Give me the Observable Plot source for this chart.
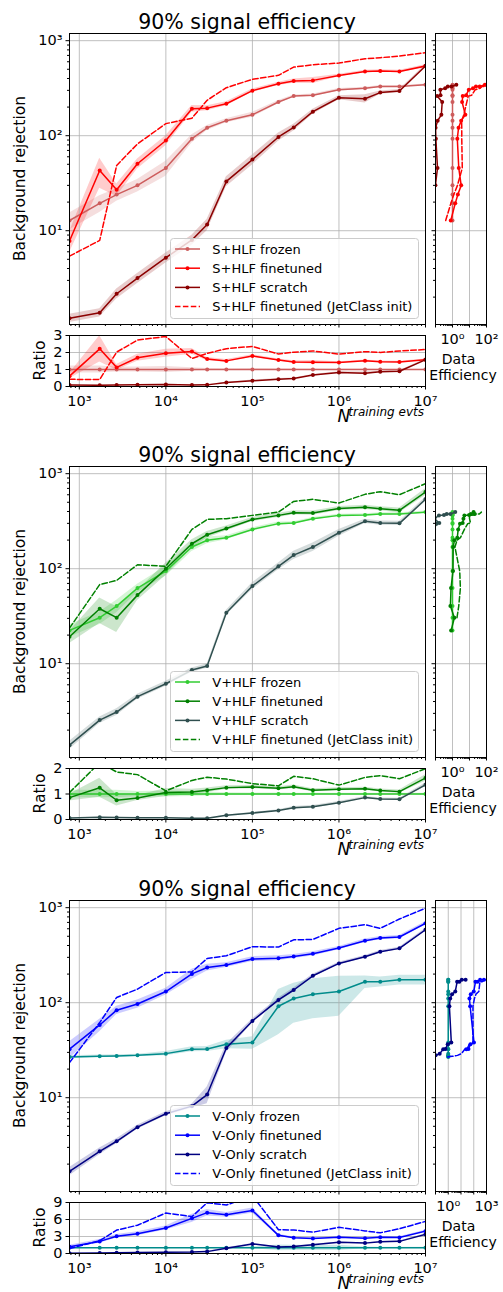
<!DOCTYPE html>
<html>
<head>
<meta charset="utf-8">
<script src="https://cdn.jsdelivr.net/npm/d3@7"></script>
<script src="https://cdn.jsdelivr.net/npm/@observablehq/plot@0.6"></script>
<style>
  body { margin: 0; background: #fff; }
  #fig { position: relative; width: 503px; height: 1292px; overflow: hidden; font-family: "DejaVu Sans", sans-serif; }
  #fig > svg { position: absolute; }
</style>
</head>
<body>
<div id="fig"></div>
<script>
// Training-set sizes shared by all curves
const nTrain = [770, 1720, 2700, 4700, 1e4, 2e4, 3e4, 5e4, 1e5, 2e5, 3e5, 5e5, 1e6, 2e6, 3e6, 5e6, 1e7];

// S+HLF: background rejection at 90% signal efficiency
const shlfFrozen    = [12.8, 19.4, 24, 30, 45.6, 93, 121, 144, 166, 226, 261, 267, 305, 315, 330, 330, 344];
const shlfFinetuned = [7.8, 43, 27, 50.7, 89, 192, 195, 217, 298, 352, 376, 382, 431, 475, 479, 475, 541];
const shlfScratch   = [1.2, 1.37, 2.17, 3.17, 5.2, 8.0, 11.6, 33, 56, 97, 122, 179, 251, 245, 284, 295, 541];
const shlfJetClass  = [5.4, 7.9, 48.6, 82, 134, 153, 236, 320, 392, 432, 527, 558, 581, 646, 662, 689, 748];

// V+HLF
const vhlfFrozen    = [22.4, 30.5, 40.4, 62.5, 94.4, 169, 199, 212, 259, 298, 302, 336, 364, 367, 376, 376, 394];
const vhlfFinetuned = [19.2, 37.9, 30.5, 52.7, 100, 183, 228, 265, 330, 364, 388, 385, 431, 442, 428, 411, 641];
const vhlfScratch   = [1.39, 2.55, 3.1, 4.5, 6.15, 8.57, 9.44, 34.4, 65.7, 106, 139, 169, 239, 315, 302, 300, 537];
const vhlfJetClass  = [23.7, 68, 75.3, 110, 106, 259, 330, 336, 364, 394, 511, 537, 491, 606, 647, 601, 785];

// V-Only
const vonlyFrozen    = [26.8, 27.3, 27.5, 27.9, 29.1, 32.4, 32.6, 36.5, 38, 91.8, 110.6, 123, 131, 166, 166, 174, 174];
const vonlyFinetuned = [32.4, 58.3, 83.4, 97, 131, 201, 235, 249, 288, 294, 307, 327, 376, 449, 479, 491, 684];
const vonlyScratch   = [1.68, 2.73, 3.48, 4.9, 6.78, 8.15, 10.8, 33.3, 64.3, 107, 136, 192, 259, 304, 344, 373, 586];
const vonlyJetClass  = [23.4, 61.8, 113.6, 139, 208, 211, 292, 312, 388, 385, 459, 463, 606, 662, 606, 760, 986];

// Relative spread across trainings (shaded bands)
const shlfFrozenErr    = [0.2, 0.2, 0.15, 0.15, 0.18, 0.1, 0.06, 0.05, 0.06, 0.04, 0.03, 0.03, 0.03, 0.03, 0.02, 0.02, 0.02];
const shlfFinetunedErr = [0.25, 0.35, 0.15, 0.12, 0.12, 0.08, 0.06, 0.05, 0.04, 0.04, 0.05, 0.07, 0.03, 0.03, 0.03, 0.03, 0.03];
const shlfScratchErr   = [0.1, 0.1, 0.12, 0.12, 0.12, 0.12, 0.14, 0.12, 0.12, 0.1, 0.08, 0.06, 0.05, 0.1, 0.04, 0.04, 0.03];
const vhlfFrozenErr    = [0.15, 0.15, 0.15, 0.1, 0.12, 0.1, 0.08, 0.05, 0.04, 0.04, 0.03, 0.03, 0.03, 0.03, 0.03, 0.03, 0.03];
const vhlfFinetunedErr = [0.15, 0.3, 0.3, 0.12, 0.15, 0.1, 0.08, 0.06, 0.05, 0.05, 0.05, 0.05, 0.05, 0.05, 0.05, 0.06, 0.08];
const vhlfScratchErr   = [0.1, 0.08, 0.08, 0.06, 0.06, 0.05, 0.05, 0.06, 0.08, 0.08, 0.1, 0.1, 0.08, 0.05, 0.05, 0.05, 0.05];
const vonlyFrozenErr    = [0.03, 0.03, 0.03, 0.03, 0.05, 0.06, 0.06, 0.1, 0.15, 0.5, 0.45, 0.45, 0.45, 0.15, 0.12, 0.12, 0.12];
const vonlyFinetunedErr = [0.2, 0.15, 0.1, 0.1, 0.08, 0.12, 0.08, 0.06, 0.06, 0.06, 0.05, 0.05, 0.04, 0.04, 0.04, 0.04, 0.04];
const vonlyScratchErr   = [0.1, 0.08, 0.06, 0.05, 0.05, 0.05, 0.2, 0.1, 0.05, 0.05, 0.05, 0.04, 0.03, 0.03, 0.03, 0.03, 0.03];

// Data efficiency (events the frozen model needs / events the model needs)
// at each rejection level reached by the frozen model; null = level not reached
const frozenEff       = [1, 1, 1, 1, 1, 1, 1, 1, 1, 1, 1, 1, 1, 1, 1, 1, 1];
const shlfFinetunedEff = [0.792, 1.45, 2.07, 3.24, 2.34, 1.92, 2.27, 3.24, 5.7, 3.66, 4.01, 6.36, 9.08, 16, 24, 40, 80];
const shlfScratchEff   = [0.0245, 0.0446, 0.0631, 0.0985, 0.131, 0.105, 0.101, 0.134, 0.221, 0.248, 0.126, 0.197, 0.193, 0.371, 0.528, 0.88, 1.68];
const shlfJetClassEff  = [0.397, 0.8, 1.19, 1.96, 3.76, 3.51, 3.51, 3.43, 4.63, 6.94, 8.45, 13.5, 21.7, 41.1, 54, 90, 156];
const vhlfFinetunedEff = [0.833, 1.29, 0.752, 0.818, 1.07, 1.1, 1.29, 1.91, 2.16, 2.76, 3.97, 4.4, 5, 9.49, 12.2, 20.3, 17.4];
const vhlfScratchEff   = [0.0182, 0.0361, 0.0455, 0.0496, 0.0591, 0.04, 0.0433, 0.0635, 0.0817, 0.115, 0.167, 0.0874, 0.159, 0.315, 0.459, 0.764, 1.45];
const vhlfJetClassEff  = [null, 1.84, 2.33, 2.91, 2.66, 1.39, 1.84, 2.92, 5, 7.91, 11.6, 10, 10, 18.6, 22.6, 37.6, 50];
const vonlyFinetunedEff = [null, null, null, null, null, 26, 38.6, 55.2, 104, 52.1, 45.9, 58.6, 100, 136, 204, 316, 632];
const vonlyScratchEff   = [0.017, 0.0376, 0.0589, 0.102, 0.213, 0.405, 0.606, 0.908, 1.74, 1.23, 1.42, 1.98, 3.55, 4.96, 7.44, 11.6, 23.1];
const vonlyJetClassEff  = [0.894, 1.97, 3.07, 5.28, 10.8, 19.8, 29.6, 44.9, 86.9, 86.7, 113, 149, 250, 305, 458, 699, 1400];

const FONT = '"DejaVu Sans", sans-serif';
const GRID = {stroke: "#b0b0b0", strokeOpacity: 1, strokeWidth: 0.8};
const DASH = "5.5,2.4";
const SUP = {"0": "⁰", "1": "¹", "2": "²", "3": "³", "4": "⁴", "5": "⁵", "6": "⁶", "7": "⁷", "8": "⁸", "9": "⁹", "-": "⁻"};
const pow10 = v => "10" + String(Math.round(Math.log10(v))).split("").map(c => SUP[c]).join("");
const blank = () => "";
function logMinor(e0, e1) { const t = []; for (let e = e0; e < e1; e++) for (let m = 2; m <= 9; m++) t.push(m * 10 ** e); return t; }

const xDomain = [770, 1e7];
const xMajor = [1e3, 1e4, 1e5, 1e6, 1e7];
const xMinor = logMinor(2, 7).filter(v => v >= 770);
const yDomain = [1.03, 1190];
const yMajor = [10, 100, 1000];
const yMinor = logMinor(0, 3).filter(v => v >= 1.03);
const style = {fontFamily: FONT, fontSize: "14.5px", color: "black", background: "transparent", overflow: "visible"};

const panels = [
  {top: 0, label: "S+HLF", frozen: shlfFrozen,
   series: [
     {name: "frozen", vals: shlfFrozen, err: shlfFrozenErr, eff: frozenEff, color: "#cd5c5c"},
     {name: "finetuned", vals: shlfFinetuned, err: shlfFinetunedErr, eff: shlfFinetunedEff, color: "#ff0000"},
     {name: "scratch", vals: shlfScratch, err: shlfScratchErr, eff: shlfScratchEff, color: "#8b0000"},
     {name: "finetuned (JetClass init)", vals: shlfJetClass, eff: shlfJetClassEff, color: "#ff0000", dash: true}],
   ratioTicks: [0, 1, 2, 3], effDomain: [0.1, 100], effLabels: [1, 100]},
  {top: 433, label: "V+HLF", frozen: vhlfFrozen,
   series: [
     {name: "frozen", vals: vhlfFrozen, err: vhlfFrozenErr, eff: frozenEff, color: "#32cd32"},
     {name: "finetuned", vals: vhlfFinetuned, err: vhlfFinetunedErr, eff: vhlfFinetunedEff, color: "#008000"},
     {name: "scratch", vals: vhlfScratch, err: vhlfScratchErr, eff: vhlfScratchEff, color: "#2f4f4f"},
     {name: "finetuned (JetClass init)", vals: vhlfJetClass, eff: vhlfJetClassEff, color: "#008000", dash: true}],
   ratioTicks: [0, 1, 2], effDomain: [0.1, 100], effLabels: [1, 100]},
  {top: 867, label: "V-Only", frozen: vonlyFrozen,
   series: [
     {name: "frozen", vals: vonlyFrozen, err: vonlyFrozenErr, eff: frozenEff, color: "#008b8b"},
     {name: "finetuned", vals: vonlyFinetuned, err: vonlyFinetunedErr, eff: vonlyFinetunedEff, color: "#0000ff"},
     {name: "scratch", vals: vonlyScratch, err: vonlyScratchErr, eff: vonlyScratchEff, color: "#000080"},
     {name: "finetuned (JetClass init)", vals: vonlyJetClass, eff: vonlyJetClassEff, color: "#0000ff", dash: true}],
   ratioTicks: [0, 3, 6, 9], effDomain: [0.1, 1000], effLabels: [1, 1000]}
];

const fig = document.getElementById("fig");
function place(el, left, top) { el.style.left = left + "px"; el.style.top = top + "px"; fig.appendChild(el); }

// rows for one curve; with `base` the values are divided by the frozen curve
function rowsOf(vals, err, base) {
  return nTrain.map((n, i) => {
    const v = base ? vals[i] / base[i] : vals[i];
    return {n, v, lo: err ? v * (1 - err[i]) : null, hi: err ? v * (1 + err[i]) : null};
  });
}

function curveMarks(P, base) {
  const marks = [];
  for (const s of P.series) if (s.err)
    marks.push(Plot.areaY(rowsOf(s.vals, s.err, base), {x: "n", y1: "lo", y2: "hi", fill: s.color, fillOpacity: 0.2, clip: true}));
  marks.push(Plot.gridX(xMajor, GRID));
  for (const s of P.series) {
    const rows = rowsOf(s.vals, null, base);
    marks.push(Plot.line(rows, {x: "n", y: "v", stroke: s.color, strokeWidth: 1.5, strokeDasharray: s.dash ? DASH : null, clip: true}));
    if (!s.dash) marks.push(Plot.dot(rows, {x: "n", y: "v", r: 2, fill: s.color, clip: true}));
  }
  return marks;
}

for (const P of panels) {
  // background rejection vs training size
  const main = Plot.plot({
    width: 503, height: 326, marginTop: 33, marginBottom: 2, marginLeft: 69, marginRight: 78,
    x: {type: "log", domain: xDomain}, y: {type: "log", domain: yDomain}, style,
    marks: [
      Plot.gridY(yMajor, GRID),
      ...curveMarks(P, null),
      Plot.axisY(yMajor, {tickSize: 3.5, tickPadding: 3.5, tickFormat: pow10, label: null}),
      Plot.axisY(yMinor, {tickSize: 2, tickFormat: blank, label: null}),
      Plot.axisX(xMajor, {tickSize: 3.5, tickFormat: blank, label: null}),
      Plot.axisX(xMinor, {tickSize: 2, tickFormat: blank, label: null}),
      Plot.frame({stroke: "black", strokeWidth: 1})
    ]
  });
  place(main, 0, P.top);

  // ratio to the frozen model
  const rmax = P.ratioTicks[P.ratioTicks.length - 1];
  const ratio = Plot.plot({
    width: 503, height: 83, marginTop: 2, marginBottom: 30, marginLeft: 69, marginRight: 78,
    x: {type: "log", domain: xDomain}, y: {domain: [0, rmax]}, style,
    marks: [
      Plot.gridY(P.ratioTicks, GRID),
      ...curveMarks(P, P.frozen),
      Plot.axisY(P.ratioTicks, {tickSize: 3.5, tickPadding: 3.5, tickFormat: d => String(d), label: null}),
      Plot.axisX(xMajor, {tickSize: 3.5, tickPadding: 5.5, tickFormat: pow10, label: null}),
      Plot.axisX(xMinor, {tickSize: 2, tickFormat: blank, label: null}),
      Plot.frame({stroke: "black", strokeWidth: 1})
    ]
  });
  place(ratio, 0, P.top + 333);

  // data efficiency at each frozen rejection level
  const e0 = Math.round(Math.log10(P.effDomain[0])), e1 = Math.round(Math.log10(P.effDomain[1]));
  const effMajor = d3.range(e0, e1 + 1).map(e => 10 ** e);
  const effMinor = logMinor(e0, e1);
  const sideMarks = [Plot.gridX(effMajor, GRID), Plot.gridY(yMajor, GRID)];
  for (const s of P.series) {
    const rows = P.frozen.map((R, i) => ({R, e: s.eff[i] == null ? NaN : s.eff[i]}));
    sideMarks.push(Plot.line(rows, {x: "e", y: "R", stroke: s.color, strokeWidth: 1.5, strokeDasharray: s.dash ? DASH : null, clip: true}));
    if (!s.dash) sideMarks.push(Plot.dot(rows, {x: "e", y: "R", r: 2, fill: s.color, clip: true}));
  }
  sideMarks.push(
    Plot.axisY(yMajor, {tickSize: 3.5, tickFormat: blank, label: null}),
    Plot.axisY(yMinor, {tickSize: 2, tickFormat: blank, label: null}),
    Plot.axisX(effMajor, {tickSize: 3.5, tickPadding: 5.5, tickFormat: d => P.effLabels.includes(d) ? pow10(d) : "", label: null}),
    Plot.axisX(effMinor, {tickSize: 2, tickFormat: blank, label: null}),
    Plot.frame({stroke: "black", strokeWidth: 1})
  );
  const side = Plot.plot({
    width: 78, height: 358, marginTop: 33, marginBottom: 34, marginLeft: 10, marginRight: 17,
    x: {type: "log", domain: P.effDomain}, y: {type: "log", domain: yDomain}, style, marks: sideMarks
  });
  place(side, 425, P.top);
}

// text layer: titles, axis labels, legends
const ov = d3.create("svg").attr("width", 503).attr("height", 1292)
  .style("font-family", FONT).style("pointer-events", "none");
place(ov.node(), 0, 0);
for (const P of panels) {
  const g = ov.append("g").attr("transform", `translate(0,${P.top})`);
  g.append("text").attr("x", 247).attr("y", 28.5).attr("text-anchor", "middle").attr("font-size", 20.5).text("90% signal efficiency");
  g.append("text").attr("transform", "translate(25.3,178.5) rotate(-90)").attr("text-anchor", "middle").attr("font-size", 15.5).text("Background rejection");
  g.append("text").attr("transform", "translate(45,360.5) rotate(-90)").attr("text-anchor", "middle").attr("font-size", 15.5).text("Ratio");
  g.append("text").attr("x", 458.5).attr("y", 364).attr("text-anchor", "middle").attr("font-size", 14).text("Data");
  g.append("text").attr("x", 463).attr("y", 380).attr("text-anchor", "middle").attr("font-size", 14).text("Efficiency");
  const sup = g.append("text").attr("x", 424).attr("y", 416).attr("text-anchor", "end").attr("font-size", 12).attr("font-style", "italic").text("training evts");
  g.append("text").attr("x", 426 - sup.node().getComputedTextLength()).attr("y", 422.4).attr("font-size", 17)
    .attr("font-style", "italic").attr("text-anchor", "end").text("N");
  const lg = g.append("g").attr("transform", "translate(170.5,238.5)");
  lg.append("rect").attr("width", 248).attr("height", 80).attr("rx", 3).attr("fill", "white").attr("fill-opacity", 0.8).attr("stroke", "#cccccc");
  P.series.forEach((s, k) => {
    const y = 10.5 + k * 19.2;
    lg.append("line").attr("x1", 4.5).attr("x2", 29.5).attr("y1", y).attr("y2", y).attr("stroke", s.color).attr("stroke-width", 1.5).attr("stroke-dasharray", s.dash ? DASH : null);
    if (!s.dash) lg.append("circle").attr("cx", 17).attr("cy", y).attr("r", 2).attr("fill", s.color);
    lg.append("text").attr("x", 41.8).attr("y", y + 4.7).attr("font-size", 13).text(`${P.label} ${s.name}`);
  });
}
</script>
</body>
</html>
